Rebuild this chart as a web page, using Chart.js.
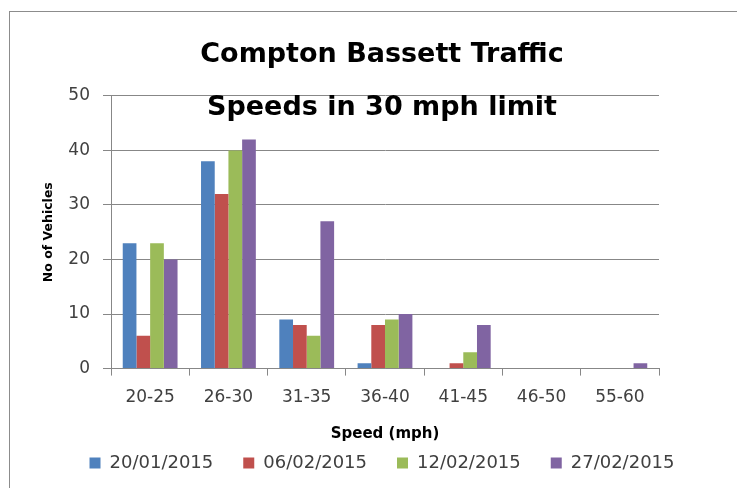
<!DOCTYPE html>
<html>
<head>
<meta charset="utf-8">
<script src="https://cdn.jsdelivr.net/npm/chart.js@4"></script>
<style>
  body { margin: 0; background: #fff; }
  #wrap { position: relative; width: 737px; height: 488px; overflow: hidden; }
  #frame { position: absolute; left: 9px; top: 11px; width: 760px; height: 500px; border: 1px solid #8c8c8c; box-sizing: border-box; }
  canvas { position: absolute; left: 0; top: 0; }
</style>
</head>
<body>
<div id="wrap">
  <div id="frame"></div>
  <canvas id="chart" width="737" height="488"></canvas>
</div>
<script>
const speedBands = ['20-25', '26-30', '31-35', '36-40', '41-45', '46-50', '55-60'];
const survey1 = [23, 38, 9, 1, 0, 0, 0];   // 20/01/2015
const survey2 = [6, 32, 8, 8, 1, 0, 0];    // 06/02/2015
const survey3 = [23, 40, 6, 9, 3, 0, 0];   // 12/02/2015
const survey4 = [20, 42, 27, 10, 8, 0, 1]; // 27/02/2015
const surveyDates = ['20/01/2015', '06/02/2015', '12/02/2015', '27/02/2015'];
const yTicks = [0, 10, 20, 30, 40, 50];

const colours = ['#4f81bd', '#c0504d', '#9bbb59', '#8064a2'];
const seriesValues = [survey1, survey2, survey3, survey4];
const fontName = '"DejaVu Sans", Verdana, sans-serif';

const ctx = document.getElementById('chart').getContext('2d');
new Chart(ctx, {
    type: 'bar',
    data: {
        labels: speedBands,
        datasets: seriesValues.map((vals, i) => ({
            label: surveyDates[i],
            data: vals,
            backgroundColor: colours[i],
            borderWidth: 0,
            categoryPercentage: 0.7,
            barPercentage: 1.0
        }))
    },
    options: {
        responsive: false,
        animation: false,
        layout: { padding: { left: 27, right: 0, top: 0, bottom: 6 } },
        plugins: {
            title: {
                display: true,
                text: ['Compton Bassett Traffic', 'Speeds in 30 mph limit'],
                color: '#000',
                font: { family: fontName, size: 27, weight: 'bold', lineHeight: 1.96 },
                padding: { top: 29, bottom: -39 }
            },
            legend: {
                position: 'bottom',
                labels: {
                    boxWidth: 11,
                    boxHeight: 11,
                    padding: 30,
                    color: '#404040',
                    font: { family: fontName, size: 18 }
                }
            },
            tooltip: { enabled: false }
        },
        scales: {
            x: {
                grid: {
                    offset: true,
                    drawOnChartArea: false,
                    drawTicks: true,
                    tickLength: 7,
                    color: '#878787'
                },
                border: { color: '#878787' },
                ticks: { color: '#404040', font: { family: fontName, size: 17 }, padding: 12 },
                title: {
                    display: true,
                    text: 'Speed (mph)',
                    color: '#000',
                    font: { family: fontName, size: 15, weight: 'bold' },
                    padding: { top: 5, bottom: -19 }
                }
            },
            y: {
                min: 0,
                max: 50,
                afterBuildTicks: axis => { axis.ticks = yTicks.map(v => ({ value: v })); },
                afterFit: axis => { axis.width = 84; },
                grid: { color: '#878787', tickLength: 8 },
                border: { color: '#878787' },
                ticks: { color: '#404040', font: { family: fontName, size: 17 }, padding: 13 },
                title: {
                    display: true,
                    text: 'No of Vehicles',
                    color: '#000',
                    font: { family: fontName, size: 12.5, weight: 'bold' },
                    padding: { top: 14, bottom: 0 }
                }
            },
            spare: {
                type: 'linear',
                position: 'right',
                display: true,
                afterFit: axis => { axis.width = 78; },
                grid: { display: false },
                border: { display: false },
                ticks: { display: false }
            }
        }
    }
});
</script>
</body>
</html>
